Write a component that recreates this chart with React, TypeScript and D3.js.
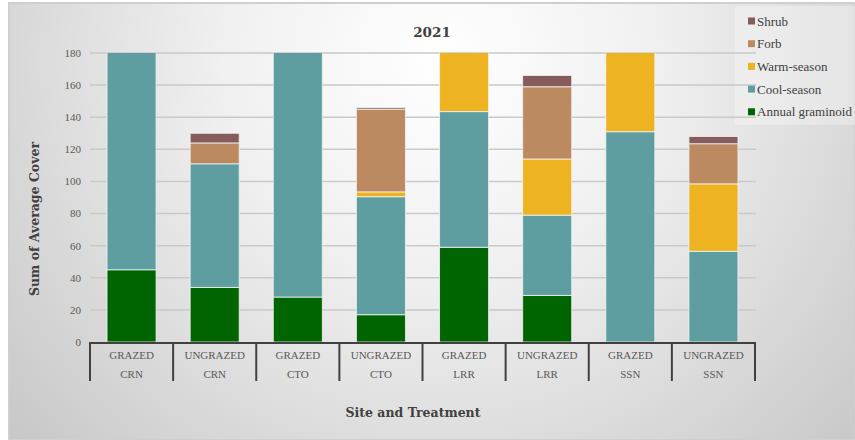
import React from "react";
import * as d3 from "d3";

const categories = [
  ["GRAZED", "CRN"],
  ["UNGRAZED", "CRN"],
  ["GRAZED", "CTO"],
  ["UNGRAZED", "CTO"],
  ["GRAZED", "LRR"],
  ["UNGRAZED", "LRR"],
  ["GRAZED", "SSN"],
  ["UNGRAZED", "SSN"],
];

const annualGraminoid = [45, 34, 28, 17, 59, 29, 0, 0];
const coolSeason = [150, 77, 165, 73.5, 84.5, 50, 131, 56.5];
const warmSeason = [0, 0, 0, 3, 50, 35, 60, 42];
const forb = [0, 13, 0, 51.5, 0, 45, 0, 25];
const shrub = [0, 6, 0, 1, 0, 7, 0, 4.5];

const yTicks = [0, 20, 40, 60, 80, 100, 120, 140, 160, 180];

const seriesNames = ["Annual graminoid", "Cool-season", "Warm-season", "Forb", "Shrub"];
const seriesValues = [annualGraminoid, coolSeason, warmSeason, forb, shrub];
const seriesColors = ["#006400", "#5f9ea0", "#edb320", "#bc8a60", "#855b5b"];

const W = 855;
const H = 440;
const FONT = "'Liberation Serif', 'DejaVu Serif', serif";
const TITLE_FONT = "'DejaVu Serif', 'Liberation Serif', serif";

export default function App() {
  const keys = categories.map((c) => c.join(" "));
  const left = 90;
  const right = 755;
  const top = 53;
  const bottom = 342;

  const x = d3.scaleBand<string>().domain(keys).range([left, right]).paddingInner(0.41).paddingOuter(0.205);
  const xBand = d3.scaleBand<string>().domain(keys).range([left, right]).padding(0);
  const y = d3.scaleLinear().domain([0, 180]).range([bottom, top]);

  const rows = keys.map((k, i) => {
    const r: Record<string, any> = { key: k };
    seriesNames.forEach((s, j) => (r[s] = seriesValues[j][i]));
    return r;
  });
  const stacked = d3.stack<any>().keys(seriesNames)(rows);

  const legendItems = [...seriesNames].map((n, i) => ({ n, c: seriesColors[i] })).reverse();

  return (
    <svg width={W} height={H} style={{ position: "absolute", left: 0, top: 0 }}>
      <defs>
        <radialGradient id="bg" gradientUnits="userSpaceOnUse" cx={440} cy={60} r={620}>
          <stop offset="0" stopColor="#ffffff" />
          <stop offset="0.35" stopColor="#f0f0f0" />
          <stop offset="1" stopColor="#c2c2c2" />
        </radialGradient>
        <clipPath id="plotClip">
          <rect x={left} y={top} width={right - left} height={bottom - top + 2} />
        </clipPath>
      </defs>
      <rect x={9} y={3} width={W - 9} height={H - 3} fill="url(#bg)" stroke="#cfcfcf" strokeWidth={2} />

      {/* legend panel */}
      <rect x={735} y={6} width={120} height={119} fill="#ffffff" opacity={0.3} />

      {/* gridlines */}
      {yTicks.filter((t) => t > 0).map((t) => (
        <line key={t} x1={left} x2={right + 1} y1={y(t)} y2={y(t)} stroke="#c9c9c9" strokeWidth={1.5} />
      ))}
      {yTicks.map((t) => (
        <text key={"l" + t} x={81} y={y(t)} dy="0.35em" textAnchor="end" fontFamily={FONT} fontSize={11} fill="#595959">
          {t}
        </text>
      ))}

      {/* stacked bars */}
      <g clipPath="url(#plotClip)">
        {stacked.map((layer, j) => (
          <g key={layer.key} fill={seriesColors[j]}>
            {layer.map((d, i) => {
              const h = y(d[0]) - y(d[1]);
              if (h <= 0) return null;
              return (
                <rect
                  key={i}
                  x={x(keys[i])!}
                  y={y(d[1])}
                  width={x.bandwidth()}
                  height={h}
                  stroke="#f4f4f4"
                  strokeOpacity={0.8}
                  strokeWidth={1}
                />
              );
            })}
          </g>
        ))}
      </g>

      {/* category axis */}
      <line x1={left - 1} x2={right + 1} y1={bottom + 1} y2={bottom + 1} stroke="#404040" strokeWidth={2} />
      {keys.map((k) => (
        <line key={"d" + k} x1={xBand(k)!} x2={xBand(k)!} y1={bottom} y2={381} stroke="#404040" strokeWidth={2} />
      ))}
      <line x1={right} x2={right} y1={bottom} y2={381} stroke="#404040" strokeWidth={2} />
      {categories.map((c, i) => {
        const cx = xBand(keys[i])! + xBand.bandwidth() / 2;
        return (
          <g key={"c" + i} fontFamily={FONT} fontSize={11} fill="#595959" textAnchor="middle">
            <text x={cx} y={355} dy="0.35em">{c[0]}</text>
            <text x={cx} y={374} dy="0.35em">{c[1]}</text>
          </g>
        );
      })}

      {/* titles */}
      <text x={432} y={32} dy="0.35em" textAnchor="middle" fontFamily={TITLE_FONT} fontSize={13.5} fontWeight="bold" fill="#404040">
        2021
      </text>
      <text
        transform="translate(35,219) rotate(-90)"
        dy="0.35em"
        textAnchor="middle"
        fontFamily={TITLE_FONT}
        fontSize={12.5}
        fontWeight="bold"
        fill="#404040"
      >
        Sum of Average Cover
      </text>
      <text x={413} y={413} dy="0.35em" textAnchor="middle" fontFamily={TITLE_FONT} fontSize={12.5} fontWeight="bold" fill="#404040">
        Site and Treatment
      </text>

      {/* legend */}
      {legendItems.map((it, i) => (
        <g key={it.n} transform={`translate(748,${21 + i * 22.7})`}>
          <rect x={0} y={-3.5} width={7} height={7} fill={it.c} />
          <text x={9} y={0} dy="0.35em" fontFamily={FONT} fontSize={13} fill="#404040">
            {it.n}
          </text>
        </g>
      ))}
    </svg>
  );
}
